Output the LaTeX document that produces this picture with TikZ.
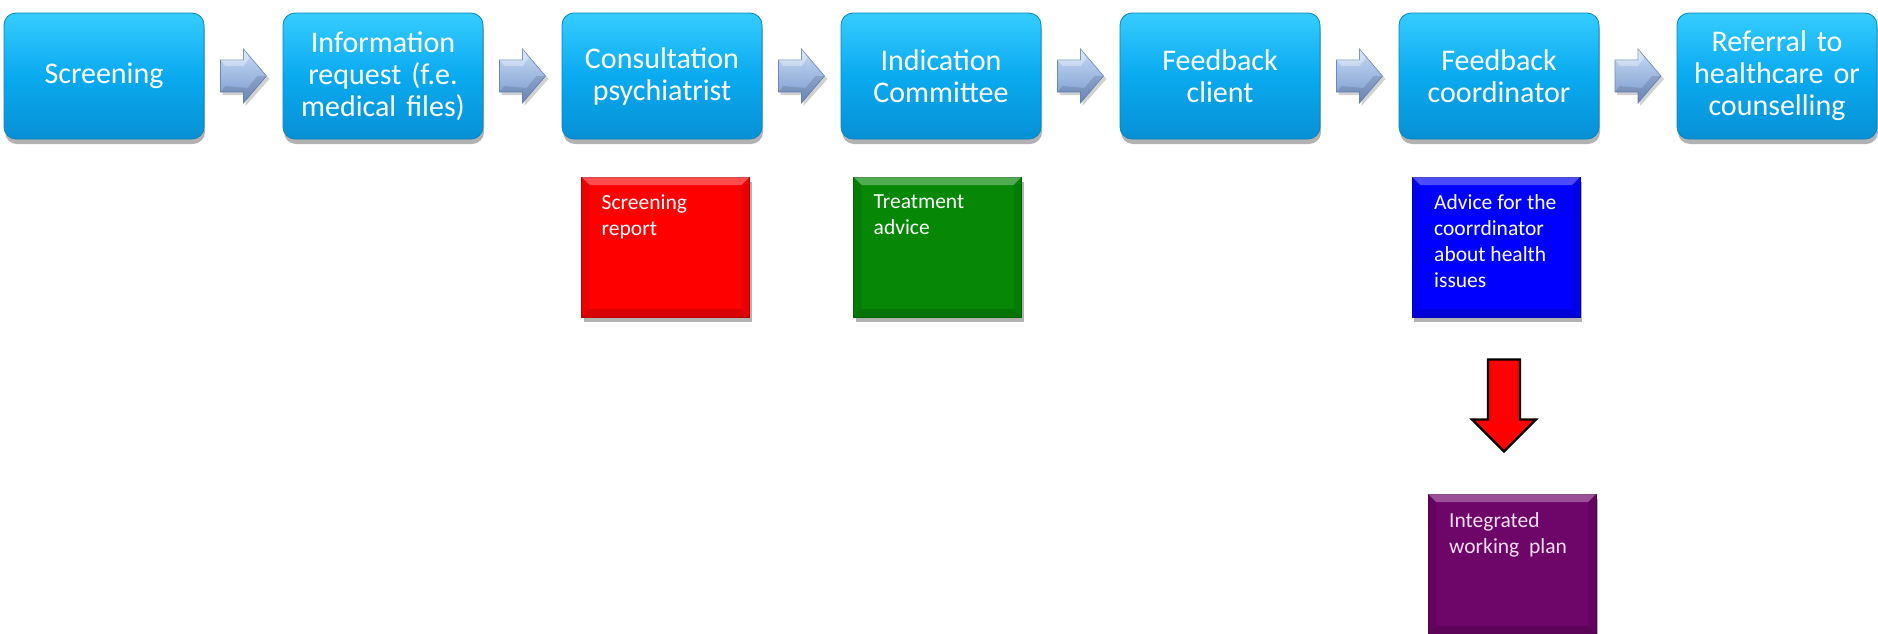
\documentclass[tikz,border=0pt]{standalone}
\usepackage{fontspec}
\setmainfont{Carlito}
\usetikzlibrary{calc,shadows}
\definecolor{flowtop}{HTML}{35CCFF}
\definecolor{flowmid}{HTML}{0AAAF0}
\definecolor{flowbot}{HTML}{0790D4}
\definecolor{flowedge}{HTML}{0784C2}
\definecolor{arrtop}{HTML}{C6DAF4}
\definecolor{arrbot}{HTML}{7898CE}
\definecolor{arredge}{HTML}{6A88BC}
\definecolor{redbox}{HTML}{FF0000}
\definecolor{greenbox}{HTML}{068806}
\definecolor{bluebox}{HTML}{0000FF}
\definecolor{purplebox}{HTML}{6E0569}
\definecolor{purpletext}{HTML}{F4E0F4}
\newcommand{\flowarrow}[2]{%
  \coordinate (m#1#2) at ($(#1.east)!0.5!(#2.west)$);
  \fill[black,opacity=.18] ($(m#1#2)+(-21,-13)$) -- ($(m#1#2)+(2,-13)$) -- ($(m#1#2)+(2,-24)$) -- ($(m#1#2)+(26,3)$) -- ($(m#1#2)+(2,30)$) -- ($(m#1#2)+(2,19)$) -- ($(m#1#2)+(-21,19)$) -- cycle;
  \path[flowarr] ($(m#1#2)+(-23,-16)$) -- ($(m#1#2)+(0,-16)$) -- ($(m#1#2)+(0,-27)$) -- ($(m#1#2)+(23,0)$) -- ($(m#1#2)+(0,27)$) -- ($(m#1#2)+(0,16)$) -- ($(m#1#2)+(-23,16)$) -- cycle;
  \fill[white,opacity=.35] ($(m#1#2)+(-23,-16)$) -- ($(m#1#2)+(0,-16)$) -- ($(m#1#2)+(0,-27)$) -- ($(m#1#2)+(6,-18)$) -- ($(m#1#2)+(0,-10)$) -- ($(m#1#2)+(-18,-10)$) -- cycle;
  \fill[black,opacity=.12] ($(m#1#2)+(-23,16)$) -- ($(m#1#2)+(0,16)$) -- ($(m#1#2)+(0,27)$) -- ($(m#1#2)+(23,0)$) -- ($(m#1#2)+(14,0)$) -- ($(m#1#2)+(4,12)$) -- ($(m#1#2)+(-18,10)$) -- cycle;
}
\newcommand{\bevel}[1]{%
  \fill[white,opacity=.3] (#1.north west) -- (#1.north east) -- ($(#1.north east)+(-8,8)$) -- ($(#1.north west)+(8,8)$) -- cycle;
  \fill[black,opacity=.08] (#1.north west) -- ($(#1.north west)+(8,8)$) -- ($(#1.south west)+(8,-8)$) -- (#1.south west) -- cycle;
  \fill[black,opacity=.08] (#1.north east) -- ($(#1.north east)+(-8,8)$) -- ($(#1.south east)+(-8,-8)$) -- (#1.south east) -- cycle;
  \fill[black,opacity=.15] (#1.south west) -- (#1.south east) -- ($(#1.south east)+(-8,-8)$) -- ($(#1.south west)+(8,-8)$) -- cycle;
}
\tikzset{
  flowbox/.style={rounded corners=12pt, minimum width=200pt, minimum height=126pt,
    text width=196pt, align=center, inner sep=0pt, outer sep=0pt, text=white,
    font=\fontsize{30}{32}\selectfont, top color=flowtop, bottom color=flowbot,
    middle color=flowmid, draw=flowedge, line width=0.8pt,
    drop shadow={shadow xshift=1pt, shadow yshift=-5pt, opacity=.3, fill=black}},
  flowarr/.style={top color=arrtop, bottom color=arrbot, draw=arredge, line width=0.6pt},
  infobox/.style={minimum width=168pt, minimum height=140pt, inner sep=0pt, outer sep=0pt,
    fill=#1, draw=#1!75!black, line width=0.8pt,
    drop shadow={shadow xshift=2pt, shadow yshift=-5pt, opacity=.3, fill=black}},
  infotext/.style={anchor=north west, align=left, inner sep=0pt, text=white,
    font=\fontsize{21.5}{26}\selectfont},
  downarr/.style={fill=red, draw=black, line width=2.2pt, line join=miter},
}
\begin{document}
\begin{tikzpicture}[x=1pt,y=-1pt]
\useasboundingbox (0,0) rectangle (1878,633);
\node[flowbox] (s1) at (104,76) {Screening};
\node[flowbox] (s2) at (383,76) {Information\\request (f.e.\\medical files)};
\node[flowbox] (s3) at (662,76) {Consultation\\psychiatrist};
\node[flowbox] (s4) at (941,76) {Indication\\Committee};
\node[flowbox] (s5) at (1220,76) {Feedback\\client};
\node[flowbox] (s6) at (1499,76) {Feedback\\coordinator};
\node[flowbox] (s7) at (1777,76) {Referral to\\healthcare or\\counselling};
\flowarrow{s1}{s2}
\flowarrow{s2}{s3}
\flowarrow{s3}{s4}
\flowarrow{s4}{s5}
\flowarrow{s5}{s6}
\flowarrow{s6}{s7}

\node[infobox=redbox] (rep) at (665.5,247) {};
\bevel{rep}
\node[infotext] (rept) at ($(rep.north west)+(20,17)$) {Screening\\report};

\node[infobox=greenbox] (adv) at (937.5,247) {};
\bevel{adv}
\node[infotext] (advt) at ($(adv.north west)+(20,17)$) {Treatment\\advice};

\node[infobox=bluebox] (coo) at (1496,247) {};
\bevel{coo}
\node[infotext] (coot) at ($(coo.north west)+(22,17)$) {Advice for the\\coorrdinator\\about health\\issues};

\node[infobox=purplebox] (plan) at (1512,564) {};
\bevel{plan}
\node[infotext, text=purpletext] (plant) at ($(plan.north west)+(21,18)$) {Integrated\\working\ \ plan};

\coordinate (dm) at ($(coo.south)!0.5!(plan.north)$);
\draw[downarr] ($(dm)+(-16,-46)$) -- ($(dm)+(16,-46)$) -- ($(dm)+(16,14)$) -- ($(dm)+(32,14)$) -- ($(dm)+(0,46)$) -- ($(dm)+(-32,14)$) -- ($(dm)+(-16,14)$) -- cycle;
\end{tikzpicture}
\end{document}
